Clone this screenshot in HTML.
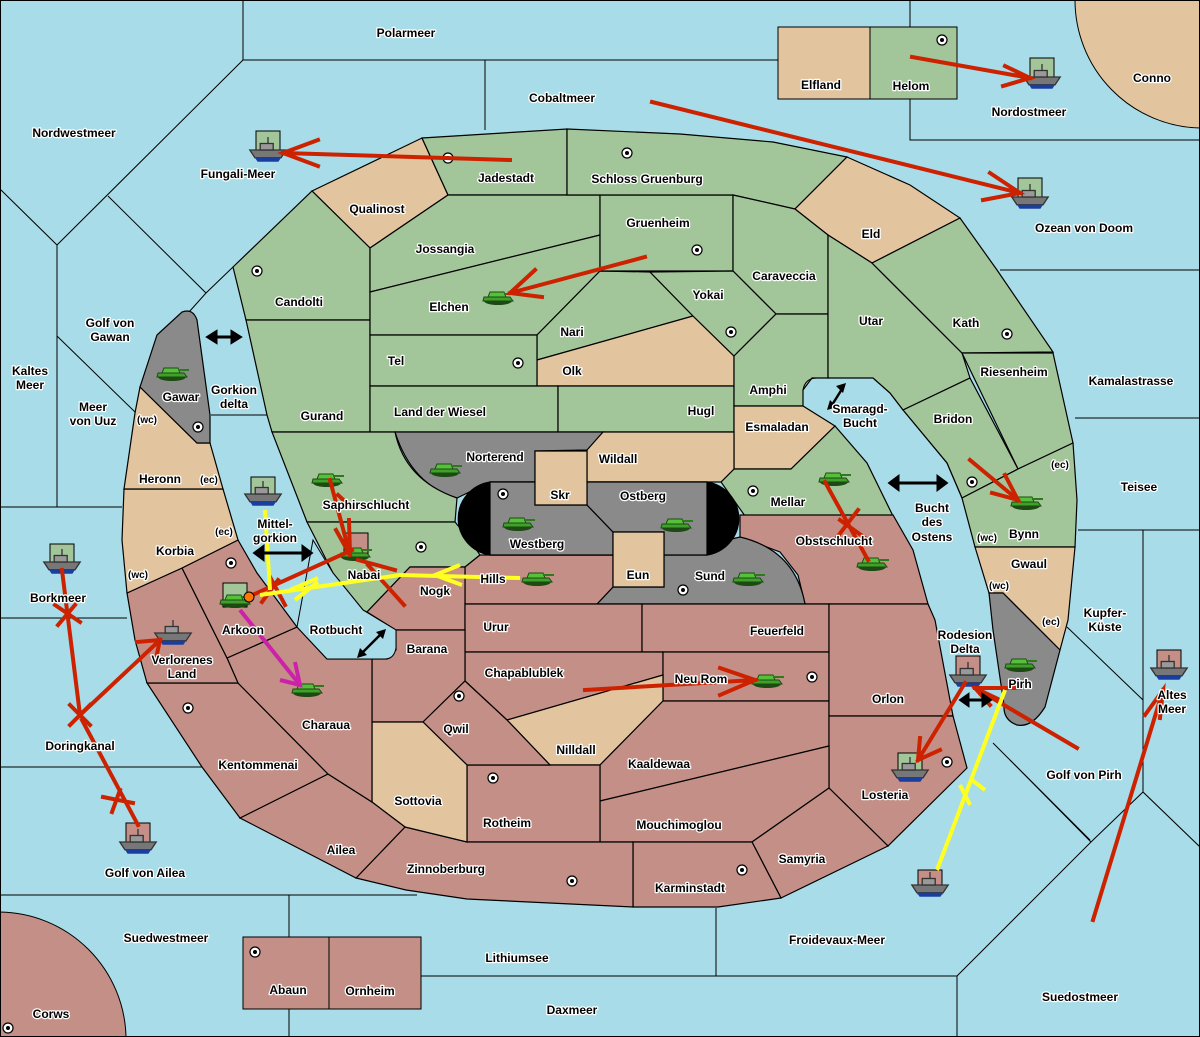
<!DOCTYPE html>
<html><head><meta charset="utf-8"><style>
html,body{margin:0;padding:0;background:#a8dce8}
svg{display:block}
text{font-family:"Liberation Sans",sans-serif;font-weight:bold;font-size:12px;fill:#000;stroke:#fff;stroke-width:2.5px;paint-order:stroke;stroke-linejoin:round;text-anchor:middle}
.s{font-size:10px}
.g{fill:#a3c59a}.t{fill:#e2c59e}.r{fill:#c48f86}.y{fill:#8a8a8a}
.reg polygon,.reg path{stroke:#000;stroke-width:1.2}
.sl{stroke:#000;stroke-width:1;fill:none}
.ar{stroke:#cc2200;stroke-width:4;fill:none;stroke-linecap:square}
.ay{stroke:#ffff22;stroke-width:4;fill:none}
.am{stroke:#cc22aa;stroke-width:4;fill:none}
</style></head><body>
<svg width="1200" height="1037" viewBox="0 0 1200 1037" xmlns="http://www.w3.org/2000/svg">
<defs>
<g id="sc"><circle r="5" fill="#fff" stroke="#000" stroke-width="1.2"/><circle r="2" fill="#000"/></g>
<g id="tk">
<ellipse cx="0" cy="4" rx="14" ry="4" fill="#1d4a12"/>
<path d="M-14,0 L12,0 L15,4 L-15,4 Z" fill="#3fa12a" stroke="#1d4a12"/>
<path d="M-8,-5 L6,-5 L8,0 L-10,0 Z" fill="#55c13a" stroke="#1d4a12"/>
<rect x="6" y="-4" width="11" height="2" fill="#2c7a1c"/>
</g>
<g id="sh0">
<path d="M-14,0 L14,0 L10,6 L-10,6 Z" fill="#777" stroke="#333"/>
<path d="M-10,6 L10,6 L8,9 L-8,9 Z" fill="#1a3ea0"/>
<rect x="-6" y="-5" width="10" height="5" fill="#999" stroke="#333"/>
<line x1="0" y1="-10" x2="0" y2="-5" stroke="#333"/>
</g>
<g id="sh"><use href="#sh0" transform="scale(1.3)"/></g>
</defs>
<rect width="1200" height="1037" fill="#a8dce8"/>
<g class="sl">
<path d="M243,0 V60 H910 M485,60 V130 M910,0 V140 H1200"/>
<path d="M243,60 L57,245 L0,189 M57,245 V507 M0,507 H122 M108,196 L206,293 L233,267 M206,293 L189,312 M57,336 L135,412"/>
<path d="M0,618 H127 M0,767 H202 M0,895 H417 M289,895 V1037 M421,976 H957 M716,908 V976 M957,976 V1037 M957,976 L1091,842 L1010,760 M1091,842 L1143,792 L1200,847 M1143,792 V530 H1078 M1143,530 H1200"/>
<path d="M1000,270 H1200 M1075,418 H1200 M993,743 L1090,840 M1067,627 L1143,700 M211,415 H267"/>
</g>
<rect x="778" y="27" width="92" height="72" fill="#e2c59e" stroke="#000"/>
<rect x="870" y="27" width="87" height="72" fill="#a3c59a" stroke="#000"/>
<path d="M1075,0 A128,128 0 0 0 1200,128 V0 Z" fill="#e2c59e" stroke="#000"/>
<path d="M0,912 A128,128 0 0 1 126,1037 H0 Z" fill="#c48f86" stroke="#000"/>
<rect x="243" y="937" width="86" height="72" fill="#c48f86" stroke="#000"/>
<rect x="329" y="937" width="92" height="72" fill="#c48f86" stroke="#000"/>
<rect x="0.5" y="0.5" width="1199" height="1036" fill="none" stroke="#000"/>
<g class="reg">
<polygon class="t" points="312,191 422,138 448,195 370,248"/>
<polygon class="g" points="422,138 567,129 567,195 448,195"/>
<polygon class="g" points="233,267 312,191 370,248 370,320 246,320"/>
<polygon class="g" points="246,320 370,320 370,432 272,432 267,415"/>
<polygon class="g" points="370,248 448,195 600,195 600,235 370,292"/>
<polygon class="g" points="370,292 600,235 600,271 537,335 370,335"/>
<polygon class="g" points="537,335 600,271 650,272 693,316 537,360"/>
<polygon class="t" points="537,360 693,316 734,356 734,386 537,386"/>
<polygon class="g" points="370,335 537,335 537,386 370,386"/>
<polygon class="g" points="370,386 558,386 558,432 370,432"/>
<polygon class="g" points="558,386 734,386 734,432 558,432"/>
<polygon class="g" points="600,195 733,195 733,271 600,271"/>
<polygon class="g" points="567,129 680,134 773,142 847,157 795,209 733,195 567,195"/>
<polygon class="t" points="847,157 910,185 960,218 872,263 828,235 795,209"/>
<polygon class="g" points="733,195 795,209 828,235 828,314 776,314 733,271"/>
<polygon class="g" points="650,272 733,271 776,314 734,356 693,316"/>
<polygon class="g" points="734,356 776,314 828,314 828,378 812,378 803,390 803,406 734,406"/>
<polygon class="t" points="734,406 803,406 835,426 791,469 734,469"/>
<polygon class="g" points="828,235 872,263 962,353 970,378 903,410 890,393 873,378 828,378"/>
<polygon class="g" points="872,263 960,218 997,270 1053,352 962,353"/>
<polygon class="g" points="962,353 1053,353 1073,443 1018,469"/>
<polygon class="g" points="903,410 970,378 1018,469 962,498 947,463"/>
<polygon class="g" points="962,498 1018,469 1073,443 1077,500 1075,547 975,547"/>
<polygon class="t" points="975,547 1075,547 1068,620 1060,650 1003,593 989,593"/>
<path class="y" d="M989,593 L1003,593 L1060,650 L1045,707 Q1032,728 1017,725 Q1003,720 1004,705 L993,630 Z"/>
<polygon class="g" points="721,482 734,469 791,469 835,426 867,463 893,516 745,516"/>
<polygon class="r" points="740,515 893,515 913,550 928,604 805,604 798,575 780,552 740,537"/>
<path class="y" d="M597,604 L613,587 L664,587 L664,555 L740,537 Q795,550 805,604 Z"/>
<polygon class="t" points="587,448 603,432 734,432 734,469 721,482 587,482"/>
<path class="y" d="M395,432 L603,432 L587,450 L535,451 L535,482 L490,482 L457,498 Q412,485 395,432 Z"/>
<path class="g" d="M272,432 L395,432 Q405,480 457,498 L455,522 L307,522 Z"/>
<polygon class="g" points="307,522 455,522 470,540 480,555 465,567 410,567 367,612 363,610 333,573"/>
<polygon class="r" points="465,567 480,555 613,555 613,587 597,604 465,604"/>
<polygon class="r" points="410,567 465,567 465,630 396,630 367,612"/>
<polygon class="r" points="465,604 642,604 642,652 465,652"/>
<polygon class="r" points="642,604 829,604 829,652 642,652"/>
<polygon class="r" points="465,652 663,652 663,675 507,720 465,681"/>
<polygon class="r" points="663,652 829,652 829,701 663,701"/>
<polygon class="t" points="507,720 663,675 663,701 600,765 550,765"/>
<polygon class="r" points="663,701 829,701 829,746 600,801 600,765"/>
<polygon class="r" points="829,604 928,604 935,620 953,716 829,716"/>
<polygon class="r" points="829,716 953,716 967,768 888,846 829,788"/>
<polygon class="r" points="600,801 829,746 829,788 752,842 600,842"/>
<polygon class="r" points="467,765 600,765 600,842 467,842"/>
<polygon class="r" points="752,842 829,788 888,846 781,898"/>
<polygon class="r" points="633,842 752,842 781,898 718,907 633,907"/>
<polygon class="r" points="405,827 467,842 633,842 633,907 467,899 406,890 356,878"/>
<polygon class="r" points="396,630 465,630 465,681 423,722 372,722 372,659 387,659 396,650"/>
<polygon class="r" points="465,681 507,720 550,765 467,765 423,722"/>
<polygon class="t" points="372,722 423,722 467,765 467,842 405,827 372,802"/>
<polygon class="r" points="240,818 328,774 372,802 405,827 356,878"/>
<polygon class="r" points="147,683 238,683 328,774 240,818 202,767"/>
<polygon class="r" points="227,658 297,627 327,659 372,659 372,802 328,774 238,683"/>
<polygon class="r" points="127,593 182,568 227,658 238,683 147,683 135,640"/>
<polygon class="r" points="182,568 238,540 257,573 297,627 227,658"/>
<polygon class="t" points="124,489 223,489 238,540 182,568 127,593 122,540"/>
<polygon class="t" points="140,387 197,443 210,443 223,489 124,489 135,413"/>
<path class="y" d="M157,335 L182,312 Q193,308 197,320 L210,415 L210,443 L197,443 L140,387 Z"/>
<path d="M490,482 H707 A38,37 0 0 1 707,555 H490 A38,37 0 0 1 490,482 Z" fill="#000"/>
<polygon class="y" points="490,482 535,482 535,505 587,505 613,532 613,555 490,555"/>
<polygon class="y" points="587,482 707,482 707,555 664,555 664,532 613,532 587,505"/>
<polygon class="t" points="535,451 587,451 587,505 535,505"/>
<polygon class="t" points="613,532 664,532 664,587 613,587"/>
</g>
<path d="M313,540 L333,573 L363,610 L396,630 L396,648 Q394,659 385,659 L327,659 L297,627 Z" fill="#a8dce8" stroke="#000"/>
<path d="M803,390 Q805,378 817,378 L873,378 L890,393 L903,410 L947,463 L962,498" fill="none" stroke="#000"/>
<g>
<use href="#sc" x="448" y="158"/><use href="#sc" x="627" y="153"/><use href="#sc" x="942" y="40"/>
<use href="#sc" x="257" y="271"/><use href="#sc" x="697" y="250"/><use href="#sc" x="731" y="332"/>
<use href="#sc" x="518" y="363"/><use href="#sc" x="1007" y="334"/><use href="#sc" x="198" y="427"/>
<use href="#sc" x="972" y="482"/><use href="#sc" x="503" y="494"/><use href="#sc" x="753" y="491"/>
<use href="#sc" x="421" y="547"/><use href="#sc" x="231" y="563"/><use href="#sc" x="683" y="590"/>
<use href="#sc" x="188" y="708"/><use href="#sc" x="459" y="696"/><use href="#sc" x="812" y="677"/>
<use href="#sc" x="493" y="778"/><use href="#sc" x="947" y="762"/><use href="#sc" x="742" y="870"/>
<use href="#sc" x="572" y="881"/><use href="#sc" x="255" y="952"/><use href="#sc" x="8" y="1028"/>
</g>
<g stroke="#000" stroke-width="1">
<rect x="256" y="131" width="24" height="24" class="g"/>
<rect x="1030" y="58" width="24" height="24" class="g"/>
<rect x="1018" y="178" width="24" height="24" class="g"/>
<rect x="251" y="477" width="24" height="24" class="g"/>
<rect x="50" y="544" width="24" height="24" class="g"/>
<rect x="126" y="823" width="24" height="24" class="r"/>
<rect x="956" y="656" width="24" height="24" class="r"/>
<rect x="898" y="753" width="24" height="24" class="g"/>
<rect x="918" y="870" width="24" height="24" class="r"/>
<rect x="1157" y="650" width="24" height="24" class="r"/>
<rect x="223" y="583" width="24" height="24" class="g"/>
<rect x="344" y="533" width="24" height="24" class="r"/>
</g>
<use href="#sh" x="268" y="150"/><use href="#sh" x="1042" y="77"/><use href="#sh" x="1030" y="197"/>
<use href="#sh" x="263" y="494"/><use href="#sh" x="62" y="562"/><use href="#sh" x="138" y="842"/>
<use href="#sh" x="968" y="675"/><use href="#sh" x="910" y="770"/><use href="#sh" x="930" y="885"/>
<use href="#sh" x="1169" y="668"/><use href="#sh" x="173" y="633"/>
<use href="#tk" x="172" y="373"/><use href="#tk" x="498" y="297"/><use href="#tk" x="445" y="469"/>
<use href="#tk" x="327" y="479"/><use href="#tk" x="355" y="553"/><use href="#tk" x="518" y="523"/>
<use href="#tk" x="676" y="524"/><use href="#tk" x="834" y="478"/><use href="#tk" x="537" y="578"/>
<use href="#tk" x="748" y="578"/><use href="#tk" x="872" y="563"/><use href="#tk" x="1026" y="502"/>
<use href="#tk" x="1020" y="664"/><use href="#tk" x="767" y="680"/><use href="#tk" x="235" y="600"/>
<use href="#tk" x="307" y="689"/>
<g class="ar">
<path d="M510,160 L283,153 M318,140 L283,153 L318,166"/>
<path d="M652,102 L1020,193 M990,173 L1020,193 L983,200"/>
<path d="M912,57 L1030,78 M1005,66 L1030,78 L1003,86"/>
<path d="M645,257 L510,293 M535,270 L510,293 L542,297"/>
<path d="M970,460 L1018,500 M1005,475 L1018,500 L992,493"/>
<path d="M825,482 L868,560 M840,520 L868,540 M835,540 L858,510"/>
<path d="M330,480 L350,555 M338,495 L352,508 M349,520 L350,555 L336,530"/>
<path d="M352,550 L248,597 M270,577 L285,605 M278,580 L262,602"/>
<path d="M404,605 L368,565 M358,560 L395,570"/>
<path d="M585,690 L755,680 M720,668 L755,680 L720,695"/>
<path d="M62,570 L80,715 M55,605 L80,622 M75,605 L58,625"/>
<path d="M80,715 L160,640 M137,642 L160,640 L155,663"/>
<path d="M70,705 L90,725 M90,705 L70,725"/>
<path d="M138,825 L82,720 M103,797 L133,803 M120,790 L112,812"/>
<path d="M1020,688 L975,688 M1000,700 L975,688"/>
<path d="M965,683 L918,760 M920,738 L918,760 L940,750"/>
<path d="M1077,748 L975,688 M995,688 L975,688 L990,705"/>
<path d="M1093,920 L1163,690 M1145,715 L1163,690 L1160,718"/>
</g>
<g class="ay">
<path d="M265,510 L270,590"/>
<path d="M520,578 L400,575 L260,595 M290,590 L318,578 M295,600 L318,582 M460,565 L435,575 L462,585"/>
<path d="M937,870 L1005,690 M960,785 L970,805 M985,790 L972,780"/>
</g>
<path class="am" d="M240,610 L300,685 M280,680 L300,685 L295,662"/>
<circle cx="249" cy="597" r="5" fill="#ff7700" stroke="#000"/>
<g stroke="#000" stroke-width="3" fill="#000">
<line x1="214" y1="337" x2="234" y2="337"/><path d="M208,337 l8,-5 v10 Z M240,337 l-8,-5 v10 Z"/>
<line x1="261" y1="553" x2="305" y2="553"/><path d="M255,553 l8,-6 v12 Z M311,553 l-8,-6 v12 Z"/>
<line x1="896" y1="483" x2="940" y2="483"/><path d="M890,483 l8,-6 v12 Z M946,483 l-8,-6 v12 Z"/>
<line x1="967" y1="700" x2="984" y2="700"/><path d="M961,700 l7,-5 v10 Z M990,700 l-7,-5 v10 Z"/>
</g>
<g stroke="#000" stroke-width="2.5" fill="none">
<path d="M832,405 L842,389"/>
<path d="M362,653 L381,634"/>
</g>
<g fill="#000">
<path d="M846,383 l-10,3 l7,7 Z M827,410 l10,-3 l-7,-7 Z"/>
<path d="M386,629 l-10,3 l7,7 Z M357,658 l10,-3 l-7,-7 Z"/>
</g>
<text x="406" y="37">Polarmeer</text>
<text x="562" y="102">Cobaltmeer</text>
<text x="74" y="137">Nordwestmeer</text>
<text x="238" y="178">Fungali-Meer</text>
<text x="506" y="182">Jadestadt</text>
<text x="647" y="183">Schloss Gruenburg</text>
<text x="377" y="213">Qualinost</text>
<text x="821" y="89">Elfland</text>
<text x="911" y="90">Helom</text>
<text x="1029" y="116">Nordostmeer</text>
<text x="1152" y="82">Conno</text>
<text x="871" y="238">Eld</text>
<text x="658" y="227">Gruenheim</text>
<text x="445" y="253">Jossangia</text>
<text x="1084" y="232">Ozean von Doom</text>
<text x="784" y="280">Caraveccia</text>
<text x="299" y="306">Candolti</text>
<text x="449" y="311">Elchen</text>
<text x="708" y="299">Yokai</text>
<text x="572" y="336">Nari</text>
<text x="871" y="325">Utar</text>
<text x="966" y="327">Kath</text>
<text x="110" y="327">Golf von</text><text x="110" y="341">Gawan</text>
<text x="396" y="365">Tel</text>
<text x="572" y="375">Olk</text>
<text x="768" y="394">Amphi</text>
<text x="1014" y="376">Riesenheim</text>
<text x="1131" y="385">Kamalastrasse</text>
<text x="30" y="375">Kaltes</text><text x="30" y="389">Meer</text>
<text x="181" y="401">Gawar</text>
<text x="234" y="394">Gorkion</text><text x="234" y="408">delta</text>
<text x="93" y="411">Meer</text><text x="93" y="425">von Uuz</text>
<text class="s" x="147" y="423">(wc)</text>
<text x="322" y="420">Gurand</text>
<text x="440" y="416">Land der Wiesel</text>
<text x="701" y="415">Hugl</text>
<text x="777" y="431">Esmaladan</text>
<text x="860" y="413">Smaragd-</text><text x="860" y="427">Bucht</text>
<text x="953" y="423">Bridon</text>
<text x="495" y="461">Norterend</text>
<text x="618" y="463">Wildall</text>
<text x="160" y="483">Heronn</text>
<text class="s" x="209" y="483">(ec)</text>
<text class="s" x="1060" y="468">(ec)</text>
<text x="1139" y="491">Teisee</text>
<text x="560" y="499">Skr</text>
<text x="643" y="500">Ostberg</text>
<text x="788" y="506">Mellar</text>
<text x="366" y="509">Saphirschlucht</text>
<text x="932" y="512">Bucht</text><text x="932" y="526">des</text><text x="932" y="541">Ostens</text>
<text x="275" y="528">Mittel-</text><text x="275" y="542">gorkion</text>
<text x="537" y="548">Westberg</text>
<text class="s" x="224" y="535">(ec)</text>
<text x="1024" y="538">Bynn</text>
<text class="s" x="987" y="541">(wc)</text>
<text x="834" y="545">Obstschlucht</text>
<text x="175" y="555">Korbia</text>
<text x="364" y="579">Nabai</text>
<text x="493" y="583">Hills</text>
<text x="638" y="579">Eun</text>
<text x="710" y="580">Sund</text>
<text class="s" x="138" y="578">(wc)</text>
<text x="1029" y="568">Gwaul</text>
<text class="s" x="999" y="589">(wc)</text>
<text x="435" y="595">Nogk</text>
<text x="58" y="602">Borkmeer</text>
<text x="1105" y="617">Kupfer-</text><text x="1105" y="631">Küste</text>
<text class="s" x="1051" y="625">(ec)</text>
<text x="496" y="631">Urur</text>
<text x="777" y="635">Feuerfeld</text>
<text x="336" y="634">Rotbucht</text>
<text x="243" y="634">Arkoon</text>
<text x="965" y="639">Rodesion</text><text x="965" y="653">Delta</text>
<text x="427" y="653">Barana</text>
<text x="182" y="664">Verlorenes</text><text x="182" y="678">Land</text>
<text x="524" y="677">Chapablublek</text>
<text x="701" y="683">Neu Rom</text>
<text x="1020" y="688">Pirh</text>
<text x="888" y="703">Orlon</text>
<text x="1172" y="699">Altes</text><text x="1172" y="713">Meer</text>
<text x="326" y="729">Charaua</text>
<text x="456" y="733">Qwil</text>
<text x="80" y="750">Doringkanal</text>
<text x="576" y="754">Nilldall</text>
<text x="659" y="768">Kaaldewaa</text>
<text x="258" y="769">Kentommenai</text>
<text x="1084" y="779">Golf von Pirh</text>
<text x="885" y="799">Losteria</text>
<text x="418" y="805">Sottovia</text>
<text x="507" y="827">Rotheim</text>
<text x="679" y="829">Mouchimoglou</text>
<text x="341" y="854">Ailea</text>
<text x="802" y="863">Samyria</text>
<text x="446" y="873">Zinnoberburg</text>
<text x="145" y="877">Golf von Ailea</text>
<text x="690" y="892">Karminstadt</text>
<text x="166" y="942">Suedwestmeer</text>
<text x="837" y="944">Froidevaux-Meer</text>
<text x="517" y="962">Lithiumsee</text>
<text x="288" y="994">Abaun</text>
<text x="370" y="995">Ornheim</text>
<text x="1080" y="1001">Suedostmeer</text>
<text x="572" y="1014">Daxmeer</text>
<text x="51" y="1018">Corws</text>
</svg>
</body></html>
